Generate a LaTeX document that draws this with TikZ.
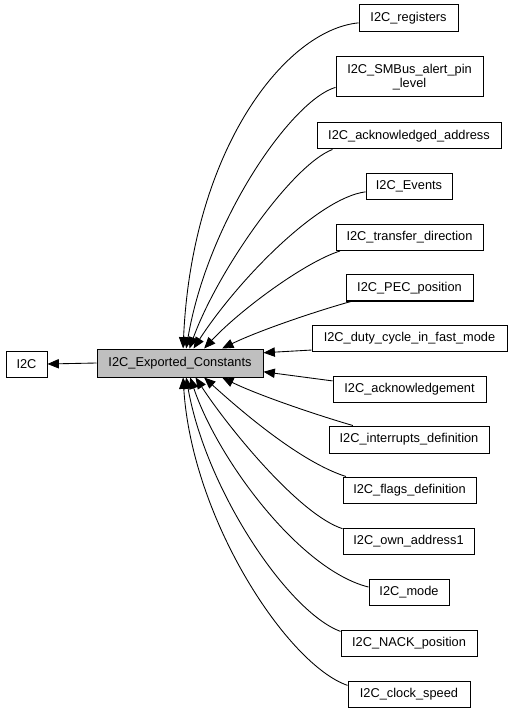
\documentclass[tikz,border=0pt]{standalone}
\usepackage{fontspec}
\setmainfont{Liberation Sans}
\usetikzlibrary{arrows.meta}
\begin{document}
\begin{tikzpicture}[x=0.75pt,y=-0.75pt,
  box/.style={draw=black, line width=0.75pt, fill=white, inner sep=0pt,
    font=\fontsize{9.6}{10}\selectfont, minimum height=19.5pt, align=center},
  main/.style={box, fill=black!25},
  edge/.style={draw=black, line width=0.65pt, -{Triangle[length=8.5pt,width=7pt]}}]
\path[use as bounding box] (0,0) rectangle (512,712);

\node[box, minimum width=30.75pt] (i2c) at (26.5,364) {I2C};
\node[main, minimum width=124.5pt, minimum height=21pt] (ec) at (180,363) {I2C\_Exported\_Constants};

\node[box, minimum width=74.25pt, minimum height=20.25pt] (reg) at (408.5,18.5) {I2C\_registers};
\node[box, minimum width=110.25pt, minimum height=30pt] (smb) at (409.5,77) {I2C\_SMBus\_alert\_pin\\\_level};
\node[box, minimum width=138pt] (aad) at (409,136) {I2C\_acknowledged\_address};
\node[box, minimum width=64.5pt] (evt) at (409,186.5) {I2C\_Events};
\node[box, minimum width=110.25pt] (tdir) at (409.5,237.5) {I2C\_transfer\_direction};
\node[box, minimum width=95.25pt] (pec) at (409.5,288) {I2C\_PEC\_position};
\node[box, minimum width=146.25pt] (duty) at (409.5,338) {I2C\_duty\_cycle\_in\_fast\_mode};
\node[box, minimum width=114.75pt] (ack) at (409.5,389) {I2C\_acknowledgement};
\node[box, minimum width=120pt, minimum height=20.25pt] (intr) at (409,439.5) {I2C\_interrupts\_definition};
\node[box, minimum width=99.75pt] (flg) at (409.5,490) {I2C\_flags\_definition};
\node[box, minimum width=98.25pt] (own) at (408.5,541.5) {I2C\_own\_address1};
\node[box, minimum width=60pt] (mode) at (409,592) {I2C\_mode};
\node[box, minimum width=102pt] (nack) at (409,643.5) {I2C\_NACK\_position};
\node[box, minimum width=91.5pt] (clk) at (409,694) {I2C\_clock\_speed};

\draw[edge] (ec.west) -- (i2c.east);

\draw[edge] (reg.185) .. controls (285,30) and (192,150) .. (ec.78);
\draw[edge] (smb.188) .. controls (292,100) and (208,220) .. (ec.67);
\draw[edge] (aad.190) .. controls (292,165) and (218,270) .. (ec.57);
\draw[edge] (evt.187) .. controls (318,198) and (238,280) .. (ec.47);
\draw[edge] (tdir.191) .. controls (305,262) and (240,310) .. (ec.31);
\draw[edge] (pec.193) .. controls (320,310) and (260,330) .. (ec.19);
\draw[edge] (duty.187) -- (ec.7);
\draw[edge] (ack.174) -- (ec.354);
\draw[edge] (intr.166) .. controls (320,416) and (260,396) .. (ec.341);
\draw[edge] (flg.168) .. controls (300,462) and (240,410) .. (ec.329);
\draw[edge] (own.169) .. controls (300,515) and (230,430) .. (ec.317);
\draw[edge] (mode.173) .. controls (300,570) and (218,460) .. (ec.305);
\draw[edge] (nack.170) .. controls (288,612) and (206,490) .. (ec.293);
\draw[edge] (clk.172) .. controls (288,665) and (192,520) .. (ec.282);
\end{tikzpicture}
\end{document}
